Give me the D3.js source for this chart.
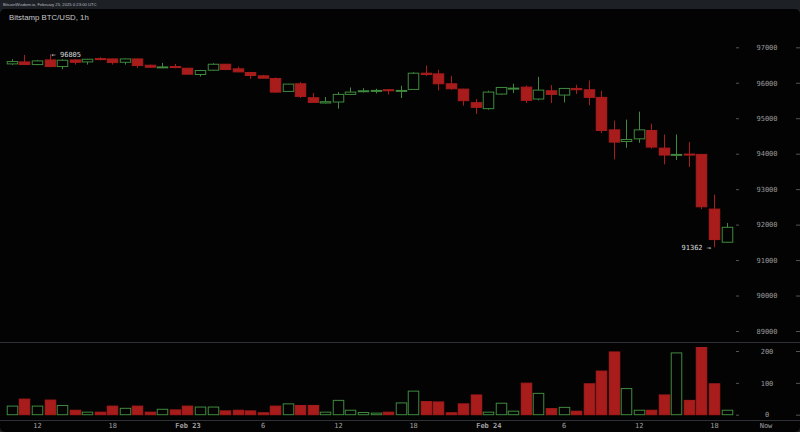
<!DOCTYPE html>
<html><head><meta charset="utf-8">
<script src="https://cdn.jsdelivr.net/npm/d3@7/dist/d3.min.js"></script>
<style>
html,body{margin:0;padding:0;background:#1d2025;}
svg{display:block;}
</style></head>
<body>
<svg id="chart" width="800" height="432"></svg>
<script>
// ---- data (Bitstamp BTC/USD, 1h, from Feb 22 10:00 UTC) ----
const startTime = Date.UTC(2025, 1, 22, 10);
const opens  = [96532,96588,96513,96644,96457,96644,96588,96681,96672,96578,96672,96494,96438,96457,96410,96233,96354,96522,96392,96289,96195,96121,95756,95971,95578,95429,95457,95672,95747,95756,95803,95765,95812,96270,96251,95971,95821,95438,95270,95681,95831,95877,95541,95775,95653,95840,95803,95588,94672,94345,94419,94653,94158,93952,93989,93980,92438,91503];
const highs  = [96663,96784,96644,96805,96663,96663,96672,96719,96681,96681,96681,96513,96560,96532,96415,96363,96550,96530,96457,96298,96223,96149,95970,96018,95709,95597,95737,95868,95849,95831,95821,95915,96298,96485,96363,96195,95830,95541,95775,95868,95971,95924,96167,95934,95840,95943,96064,95775,94933,94961,95186,94849,94541,94541,94326,93990,92849,92045];
const lows   = [96504,96504,96494,96438,96382,96513,96513,96635,96513,96513,96420,96429,96438,96410,96233,96177,96336,96354,96298,96111,96121,95719,95750,95569,95440,95419,95270,95653,95728,95700,95672,95569,95803,96195,95784,95803,95354,95120,95242,95663,95709,95429,95504,95429,95447,95681,95363,94578,93840,94167,94307,94139,93700,93821,93625,92438,91362,91500];
const closes = [96597,96513,96616,96457,96635,96578,96663,96663,96569,96672,96485,96438,96448,96438,96242,96345,96522,96373,96307,96205,96130,95737,95962,95616,95447,95466,95672,95737,95775,95784,95775,95784,96270,96233,95971,95831,95494,95307,95737,95868,95849,95504,95793,95672,95840,95803,95588,94653,94326,94401,94672,94186,93961,93980,93961,92503,91578,91924];
const volumes= [27,49,27,46,29,14,8,8,27,20,27,8,17,15,27,24,24,12,14,12,6,27,34,29,29,8,45,14,7,5,8,37,74,41,40,6,34,62,8,36,11,99,67,19,23,11,97,137,197,82,14,14,62,194,45,211,97,14];
const priceTicks = [89000,90000,91000,92000,93000,94000,95000,96000,97000];
const volumeTicks = [0,100,200];
const timeTicks = [Date.UTC(2025,1,22,12),Date.UTC(2025,1,22,18),Date.UTC(2025,1,23,0),Date.UTC(2025,1,23,6),Date.UTC(2025,1,23,12),Date.UTC(2025,1,23,18),Date.UTC(2025,1,24,0),Date.UTC(2025,1,24,6),Date.UTC(2025,1,24,12),Date.UTC(2025,1,24,18)];
const timeTickLabels = ["12","18","Feb 23","6","12","18","Feb 24","6","12","18"];
const highLabel = "← 96805";
const lowLabel = "91362 →";
const titleText = "Bitstamp BTC/USD, 1h";
const headerText = "BitcoinWisdom.io, February 25, 2025 0:23:00 UTC";

const candles = opens.map((o,i)=>({t:new Date(startTime + i*3600000), o, h:highs[i], l:lows[i], c:closes[i], v:volumes[i]}));

const svg = d3.select("#chart");
const W = 800, H = 432;
const RED = "#a81c1c", GREEN = "#3f8a3f";
const mono = "'DejaVu Sans Mono', monospace";

// panel background
svg.append("rect").attr("x",0).attr("y",0).attr("width",W).attr("height",H).attr("fill","#1d2025");
svg.append("rect").attr("x",0).attr("y",9).attr("width",W).attr("height",H-9).attr("rx",5).attr("fill","#030303");

svg.append("text").attr("x",3).attr("y",6).attr("fill","#b8bcc2")
  .attr("font-family","'Liberation Sans', Arial, sans-serif").attr("font-size",4.2).text(headerText);
svg.append("text").attr("x",9).attr("y",19.5).attr("fill","#c8c8c8")
  .attr("font-family","'Liberation Sans', Arial, sans-serif").attr("font-size",7.8).text(titleText);

// scales
const x = d3.scaleUtc().domain([new Date(timeTicks[0]), new Date(timeTicks[timeTicks.length-1])]).range([37, 714]);
const y = d3.scaleLinear().domain([89000, 97000]).range([331, 47.3]);
const yv = d3.scaleLinear().domain([0, 200]).range([414.7, 351]);
const bw = 10.5;

// separators
svg.append("line").attr("x1",0).attr("x2",W).attr("y1",342.5).attr("y2",342.5).attr("stroke","#2e3136").attr("stroke-width",1);
svg.append("line").attr("x1",0).attr("x2",W).attr("y1",420.5).attr("y2",420.5).attr("stroke","#2e3136").attr("stroke-width",1);

// price axis
const yAxis = d3.axisRight(y).tickValues(priceTicks).tickSize(3).tickFormat(d3.format("d"));
const ya = svg.append("g").attr("transform","translate(736,0)").call(yAxis);
ya.select(".domain").remove();
ya.selectAll("line").attr("stroke","#555");
ya.selectAll("text").attr("x",31).attr("text-anchor","middle").attr("fill","#9a9a9a")
  .attr("font-family",mono).attr("font-size",7);
const ya2 = svg.append("g").attr("transform","translate(800,0)").call(d3.axisLeft(y).tickValues(priceTicks).tickSize(4).tickFormat(""));
ya2.select(".domain").remove(); ya2.selectAll("line").attr("stroke","#555");

// volume axis
const va = svg.append("g").attr("transform","translate(736,0)").call(d3.axisRight(yv).tickValues(volumeTicks).tickSize(3));
va.select(".domain").remove();
va.selectAll("line").attr("stroke","#555");
va.selectAll("text").attr("x",31).attr("text-anchor","middle").attr("fill","#9a9a9a")
  .attr("font-family",mono).attr("font-size",7);
const va2 = svg.append("g").attr("transform","translate(800,0)").call(d3.axisLeft(yv).tickValues(volumeTicks).tickSize(4).tickFormat(""));
va2.select(".domain").remove(); va2.selectAll("line").attr("stroke","#555");

// time axis
const xa = svg.append("g").attr("transform","translate(0,420)")
  .call(d3.axisBottom(x).tickValues(timeTicks.map(t=>new Date(t))).tickSize(0).tickFormat((d,i)=>timeTickLabels[i]));
xa.select(".domain").remove();
xa.selectAll("text").attr("y",8.3).attr("dy",0).attr("fill","#a0a0a0")
  .attr("font-family",mono).attr("font-size",7)
  .attr("font-weight",(d,i)=>timeTickLabels[i].startsWith("Feb")?"bold":"normal");
svg.append("text").attr("x",766).attr("y",428.3).attr("text-anchor","middle").attr("fill","#a0a0a0")
  .attr("font-family",mono).attr("font-size",7).text("Now");

// candles
const g = svg.append("g");
g.selectAll("line.wick").data(candles).join("line").attr("class","wick")
  .attr("x1",d=>Math.round(x(d.t))+0.5).attr("x2",d=>Math.round(x(d.t))+0.5)
  .attr("y1",d=>y(d.h)).attr("y2",d=>y(d.l))
  .attr("stroke",d=>d.c>=d.o?GREEN:RED).attr("stroke-width",1);
g.selectAll("rect.body").data(candles).join("rect").attr("class","body")
  .attr("x",d=>Math.round(x(d.t))+0.5-bw/2)
  .attr("y",d=>y(Math.max(d.o,d.c)))
  .attr("width",bw)
  .attr("height",d=>Math.max(1, Math.abs(y(d.o)-y(d.c))))
  .attr("fill",d=>d.c>=d.o?"#030303":RED)
  .attr("stroke",d=>d.c>=d.o?GREEN:RED).attr("stroke-width",1);

// volume bars
svg.append("g").selectAll("rect").data(candles).join("rect")
  .attr("x",d=>Math.round(x(d.t))+0.5-bw/2)
  .attr("y",d=>yv(d.v))
  .attr("width",bw)
  .attr("height",d=>yv(0)-yv(d.v))
  .attr("fill",d=>d.c>=d.o?"none":RED)
  .attr("stroke",d=>d.c>=d.o?GREEN:RED).attr("stroke-width",1);

// high / low labels
const iHigh = highs.indexOf(d3.max(highs));
const iLow = lows.indexOf(d3.min(lows));
svg.append("text").attr("x",x(candles[iHigh].t)+2).attr("y",y(highs[iHigh])+2.5)
  .attr("fill","#dcdcdc").attr("font-family",mono).attr("font-size",7).text(highLabel);
svg.append("text").attr("x",x(candles[iLow].t)-3).attr("y",y(lows[iLow])+2.5).attr("text-anchor","end")
  .attr("fill","#dcdcdc").attr("font-family",mono).attr("font-size",7).text(lowLabel);
</script>
</body></html>
